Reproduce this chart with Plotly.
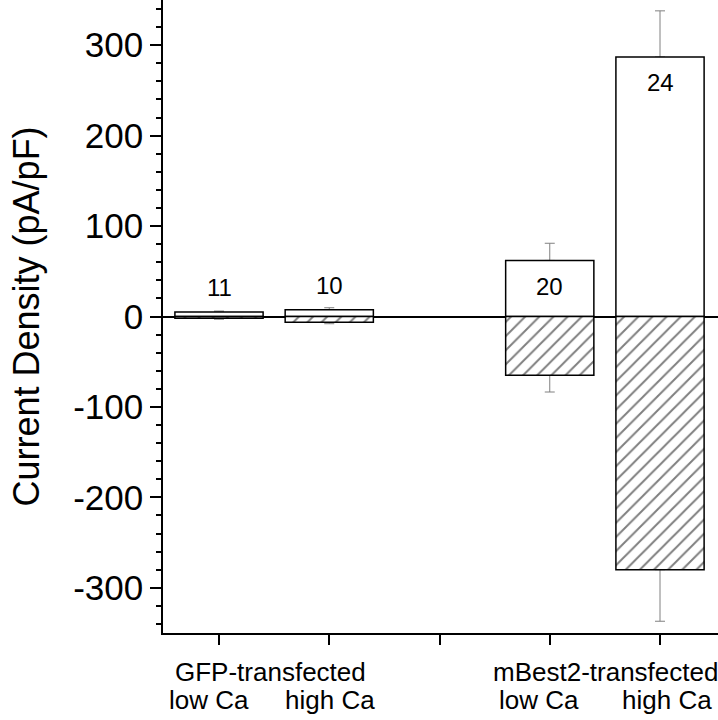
import plotly.graph_objects as go

# ---- data ----
conditions = ["GFP low Ca", "GFP high Ca", "mBest2 low Ca", "mBest2 high Ca"]
axis_slots = ["GFP low Ca", "GFP high Ca", "gap", "mBest2 low Ca", "mBest2 high Ca"]
pos_current = [5, 7.5, 62, 287]
pos_err = [1, 2.2, 19, 51]
neg_current = [-2, -6.4, -65, -280]
neg_err = [1, 1.6, 18.5, 57]
n_cells = [11, 10, 20, 24]
y_ticks = [-300, -200, -100, 0, 100, 200, 300]
group_labels = ["GFP-transfected", "mBest2-transfected"]
ca_labels = ["low Ca", "high Ca", "low Ca", "high Ca"]

FONT = "Liberation Sans, Arial, sans-serif"
W, H = 718, 720
ML, MR, MT, MB = 163, 0, 0, 87
PW = W - ML - MR

fig = go.Figure()

# whiskers first so bar outlines sit on top of them
fig.add_trace(go.Bar(
    x=conditions, y=pos_current, width=0.8,
    marker=dict(color="rgba(0,0,0,0)", line=dict(width=0)),
    error_y=dict(type="data", symmetric=False, array=pos_err,
                 arrayminus=[0] * len(pos_err), color="#808080",
                 thickness=1, width=5),
    showlegend=False, hoverinfo="skip"))
fig.add_trace(go.Bar(
    x=conditions, y=neg_current, width=0.8,
    marker=dict(color="rgba(0,0,0,0)", line=dict(width=0)),
    error_y=dict(type="data", symmetric=False, array=[0] * len(neg_err),
                 arrayminus=neg_err, color="#808080",
                 thickness=1, width=5),
    showlegend=False, hoverinfo="skip"))

fig.add_trace(go.Bar(
    x=conditions, y=pos_current, width=0.8,
    marker=dict(color="white", line=dict(color="black", width=1.5)),
    showlegend=False))
fig.add_trace(go.Bar(
    x=conditions, y=neg_current, width=0.8,
    marker=dict(color="white", line=dict(color="black", width=1.5),
                pattern=dict(shape="/", fgcolor="black", bgcolor="white",
                             size=10, solidity=0.2)),
    showlegend=False))

annotations = []
for c, v, n in zip(conditions, pos_current, n_cells):
    inside = v > 40
    annotations.append(dict(
        x=c, y=v, xref="x", yref="y", text=str(n), showarrow=False,
        font=dict(family=FONT, size=24, color="black"),
        yanchor="middle", xanchor="center",
        yshift=-26 if inside else 24))

# y-axis title
annotations.append(dict(
    x=(26 - ML) / PW, y=0.5, xref="paper", yref="paper",
    text="Current Density (pA/pF)", textangle=-90, showarrow=False,
    font=dict(family=FONT, size=36, color="black"),
    xanchor="center", yanchor="middle"))

# x labels
group_px = [270, 605]
ca_px = [209, 330, 539, 667]
for txt, px in zip(group_labels, group_px):
    annotations.append(dict(
        x=(px - ML) / PW, y=0, xref="paper", yref="paper", text=txt,
        showarrow=False, font=dict(family=FONT, size=26, color="black"),
        xanchor="center", yanchor="middle", yshift=-(672 - (H - MB))))
for txt, px in zip(ca_labels, ca_px):
    annotations.append(dict(
        x=(px - ML) / PW, y=0, xref="paper", yref="paper", text=txt,
        showarrow=False, font=dict(family=FONT, size=26, color="black"),
        xanchor="center", yanchor="middle", yshift=-(700 - (H - MB))))

fig.update_layout(
    width=W, height=H,
    margin=dict(l=ML, r=MR, t=MT, b=MB, pad=0),
    barmode="overlay",
    plot_bgcolor="white", paper_bgcolor="white",
    font=dict(family=FONT, color="black"),
    annotations=annotations,
    xaxis=dict(
        type="category", categoryorder="array", categoryarray=axis_slots,
        range=[-0.508, 4.526], showticklabels=False,
        ticks="outside", ticklen=10, tickwidth=1.5, tickcolor="black",
        showline=True, linecolor="black", linewidth=1.5,
        showgrid=False, zeroline=False, fixedrange=True),
    yaxis=dict(
        range=[-350, 350], tickvals=y_ticks,
        ticktext=[str(v) for v in y_ticks],
        tickfont=dict(family=FONT, size=35, color="black"),
        ticks="outside", ticklen=11, tickwidth=1.5, tickcolor="black",
        minor=dict(dtick=20, ticks="outside", ticklen=5, tickwidth=1.5,
                   tickcolor="black", showgrid=False),
        showline=True, linecolor="black", linewidth=1.5,
        showgrid=False, zeroline=True, zerolinecolor="black",
        zerolinewidth=1.5, fixedrange=True),
)

fig.write_html(
    "out.html",
    config={"displayModeBar": False},
    post_script="document.body.style.margin='0';document.body.style.overflow='hidden';",
)
